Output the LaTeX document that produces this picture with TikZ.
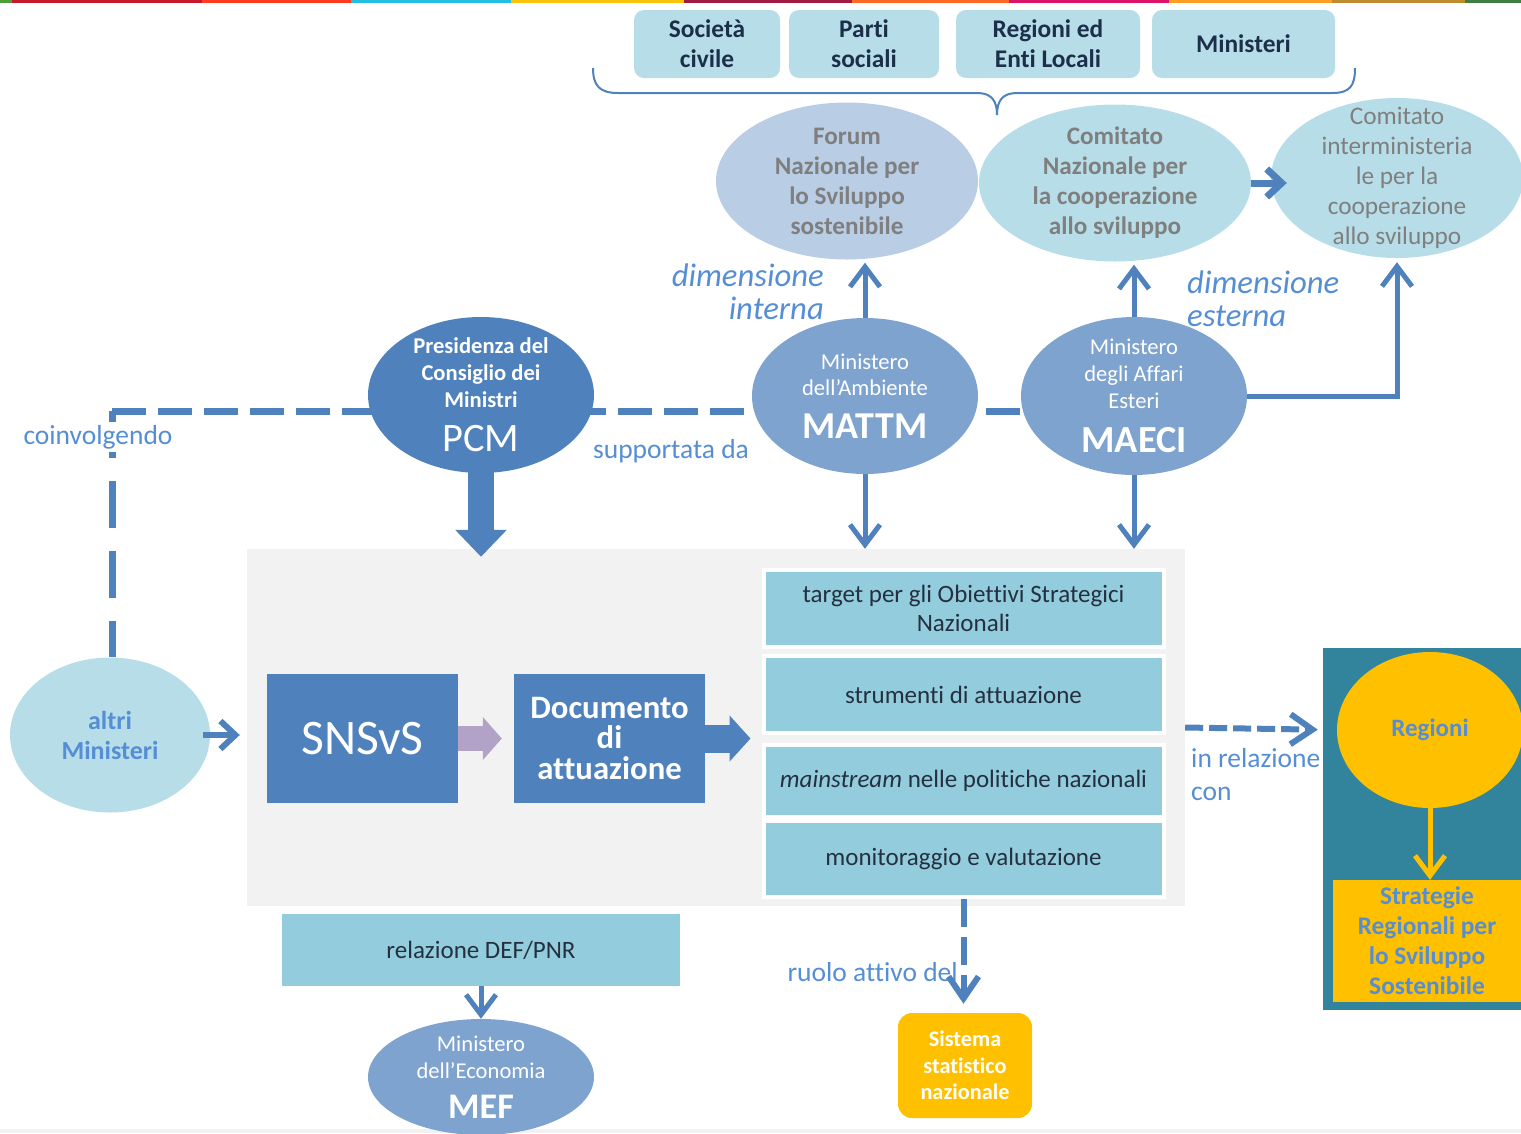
\documentclass[tikz,border=0pt]{standalone}
\usepackage{fontspec}
\setmainfont{Carlito}[Ligatures={NoCommon}]
\usetikzlibrary{arrows.meta,positioning,shapes.geometric,backgrounds}
\definecolor{sdgblue}{HTML}{4F81BD}
\definecolor{midblue}{HTML}{7EA3CE}
\definecolor{labblue}{HTML}{558ED5}
\definecolor{paleaqua}{HTML}{B7DEE8}
\definecolor{boxaqua}{HTML}{93CDDD}
\definecolor{paleblue}{HTML}{B9CDE5}
\definecolor{gold}{HTML}{FFC000}
\definecolor{petrol}{HTML}{31849B}
\definecolor{lilac}{HTML}{B3A2C7}
\definecolor{panelgray}{HTML}{F2F2F2}
\definecolor{ink}{HTML}{1C2F4A}
\definecolor{inkgray}{HTML}{243040}
\definecolor{greytext}{HTML}{7F7F7F}
\definecolor{sdgA}{HTML}{4C9F38}
\definecolor{sdgB}{HTML}{C5192D}
\definecolor{sdgC}{HTML}{FF3A21}
\definecolor{sdgD}{HTML}{26BDE2}
\definecolor{sdgE}{HTML}{FCC30B}
\definecolor{sdgF}{HTML}{A21942}
\definecolor{sdgG}{HTML}{FD6925}
\definecolor{sdgH}{HTML}{DD1367}
\definecolor{sdgI}{HTML}{FD9D24}
\definecolor{sdgJ}{HTML}{BF8B2E}
\definecolor{sdgK}{HTML}{3F7E44}
\newcommand{\fsz}[2]{\fontsize{#1}{#2}\selectfont}
\tikzset{
  topbox/.style={rounded corners=10pt,fill=paleaqua,minimum height=68pt,align=center,text=ink,font=\fsz{25.4}{30}\bfseries},
  ell/.style={ellipse,inner sep=-40pt,align=center},
  sbox/.style={fill=boxaqua,draw=white,line width=4pt,minimum width=400pt,align=center,text=inkgray,font=\fsz{25}{29}},
  bbox/.style={fill=sdgblue,text=white,minimum width=191pt,minimum height=129pt,align=center,inner sep=0pt},
  lab/.style={text=labblue,font=\fsz{27.5}{33},inner sep=0pt},
  dimlab/.style={text=labblue,font=\fsz{32.7}{33}\itshape,inner sep=0pt},
  arr/.style={-{Straight Barb[length=20pt,width=30pt]},line width=5pt,draw=sdgblue},
  smallarr/.style={-{Straight Barb[length=15pt,width=28pt]},line width=7pt,draw=sdgblue},
  darr/.style={-{Straight Barb[length=22pt,width=30pt]},line width=6pt,draw=sdgblue,dash pattern=on 18pt off 6pt},
  dline/.style={line width=7pt,draw=sdgblue,dash pattern=on 34pt off 12pt},
  brace/.style={line width=2pt,draw=sdgblue}
}
\begin{document}
\begin{tikzpicture}[x=1pt,y=-1pt]
  \useasboundingbox (0,0) rectangle (1521,1133);
  \foreach \xa/\xb/\c in {0/12/sdgA,12/202/sdgB,202/351/sdgC,351/511/sdgD,511/684/sdgE,684/852/sdgF,852/1009/sdgG,1009/1169/sdgH,1169/1332/sdgI,1332/1465/sdgJ,1465/1521/sdgK}
    \fill[\c] (\xa,0) rectangle (\xb,3);
  \fill[panelgray] (0,1129) rectangle (1521,1133);

  \node[topbox,minimum width=146pt] (civ) at (707,44) {Società\\civile};
  \node[topbox,minimum width=150pt] (parti) at (864,44) {Parti\\sociali};
  \node[topbox,minimum width=184pt] (enti) at (1048,44) {Regioni ed\\Enti Locali};
  \node[topbox,minimum width=183pt] (mintop) at (1243.5,44) {Ministeri};
  \draw[brace] (593,68) .. controls (593,86) and (600,93) .. (618,93) -- (977,93)
    .. controls (991,93) and (997,100) .. (997,115) .. controls (997,100) and (1003,93) .. (1017,93)
    -- (1332,93) .. controls (1350,93) and (1355,86) .. (1355,68);

  \node[ell,fill=paleblue,minimum width=262pt,minimum height=157pt,text=greytext,font=\fsz{25.2}{30}\bfseries] (forum) at (847,181) {Forum\\Nazionale per\\lo Sviluppo\\sostenibile};
  \node[ell,fill=paleaqua,minimum width=272pt,minimum height=157pt,text=greytext,font=\fsz{25.2}{30}\bfseries] (cnc) at (1115,183) {Comitato\\Nazionale per\\la cooperazione\\allo sviluppo};
  \node[ell,fill=paleaqua,minimum width=252pt,minimum height=160pt,text=greytext,font=\fsz{25.3}{30}] (cics) at (1397,178) {Comitato\\interministeria\\le per la\\cooperazione\\allo sviluppo};

  \node[ell,fill=sdgblue,minimum width=226pt,minimum height=156pt,text=white,font=\fsz{22.6}{27}\bfseries] (pcm) at (481,395) {Presidenza del\\Consiglio dei\\Ministri\\[17pt]{\fsz{40.4}{44}\mdseries PCM}};
  \node[ell,fill=midblue,minimum width=226pt,minimum height=156pt,text=white,font=\fsz{22.6}{26}] (mattm) at (865,396) {Ministero\\dell’Ambiente\\[17pt]{\fsz{38}{42}\bfseries MATTM}};
  \node[ell,fill=midblue,minimum width=226pt,minimum height=158pt,text=white,font=\fsz{22.6}{27}] (maeci) at (1134,396) {Ministero\\degli Affari\\Esteri\\[17pt]{\fsz{38.3}{42}\bfseries MAECI}};

  \coordinate (turn) at (112,411);
  \node[ell,fill=paleaqua,minimum width=200pt,minimum height=155pt,text=labblue,font=\fsz{26}{30}\bfseries] (altri) at (110,735) {altri\\Ministeri};
  \begin{scope}[on background layer]
    \draw[dline] (turn) -- (turn -| maeci);
    \draw[dline,dash pattern=on 47pt off 23pt] (turn) -- (turn |- altri.north);
  \end{scope}
  \node[lab,fill=white,inner sep=3pt] (coinv) at (98,437) {coinvolgendo};
  \node[lab] (supp) at (671,451) {supportata da};
  \node[dimlab,anchor=east,align=right] (dimint) at (824,292) {dimensione\\interna};
  \node[dimlab,anchor=west,align=left] (dimest) at (1187,299) {dimensione\\esterna};

  \node[fill=panelgray,minimum width=938pt,minimum height=357pt,inner sep=0pt] (panel) at (716,727.5) {};
  \node[bbox,font=\fsz{49.7}{55}] (snsvs) at (362.5,738.5) {SNSvS};
  \node[bbox,font=\fsz{32.7}{30.5}\bfseries] (doc) at (609.5,738.5) {Documento\\di\\attuazione};
  \node[sbox,minimum height=77pt] (target) at (963.5,608.5) {target per gli Obiettivi Strategici\\Nazionali};
  \node[sbox,minimum height=77pt] (strum) at (963.5,694.5) {strumenti di attuazione};
  \node[sbox,minimum height=72pt] (mainstr) at (963.5,781) {\textit{mainstream} nelle politiche nazionali};
  \node[sbox,minimum height=76pt] (monit) at (963.5,859) {monitoraggio e valutazione};

  \node[fill=petrol,minimum width=200pt,minimum height=362pt,inner sep=0pt] (regbox) at (1423,829) {};
  \node[ell,fill=gold,minimum width=186pt,minimum height=156pt,text=labblue,font=\fsz{25}{30}\bfseries] (regioni) at (1430,730) {Regioni};
  \node[fill=gold,minimum width=188pt,minimum height=122pt,align=center,text=labblue,font=\fsz{25.4}{30}\bfseries] (strat) at (1427,941) {Strategie\\Regionali per\\lo Sviluppo\\Sostenibile};
  \node[lab,anchor=west,align=left] (inrel) at (1191,775) {in relazione\\con};

  \node[fill=boxaqua,minimum width=398pt,minimum height=72pt,text=inkgray,font=\fsz{25}{29}] (defpnr) at (481,950) {relazione DEF/PNR};
  \node[ell,fill=midblue,minimum width=226pt,minimum height=116pt,text=white,font=\fsz{22.6}{27}] (mef) at (481,1077) {Ministero\\dell’Economia\\[13pt]{\fsz{36}{40}\bfseries MEF}};
  \node[fill=gold,rounded corners=14pt,minimum width=134pt,minimum height=105pt,align=center,text=white,font=\fsz{22.3}{26.5}\bfseries] (sistan) at (965,1065.5) {Sistema\\statistico\\nazionale};
  \node[lab,anchor=east] (ruolo) at (958,972) {ruolo attivo del};

  \draw[arr,shorten >=3pt] (mattm.north) -- (mattm.north |- forum.south);
  \draw[arr,shorten >=3pt] (maeci.north) -- (maeci.north |- cnc.south);
  \draw[arr,shorten >=4pt] (maeci.east) -| (cics.south);
  \draw[smallarr,shorten >=-16pt] (cnc.east) -- (cnc.east -| cics.west);
  \draw[arr] (mattm.south) -- (mattm.south |- panel.north);
  \draw[arr] (maeci.south) -- (maeci.south |- panel.north);
  \draw[line width=26pt,draw=sdgblue,-{Triangle[length=27pt,width=50pt]},shorten <=-5pt,shorten >=-8pt] (pcm.south) -- (pcm.south |- panel.north);
  \draw[smallarr,line width=6pt,shorten <=-7pt,shorten >=7pt] (altri.east) -- (altri.east -| panel.west);
  \draw[line width=25pt,draw=lilac,-{Triangle[length=19pt,width=42pt]},shorten >=12pt] (snsvs) -- (doc);
  \draw[line width=28pt,draw=sdgblue,-{Triangle[length=21pt,width=45pt]},shorten >=11pt] (doc.east) -- (doc.east -| target.west);
  \draw[darr,shorten >=19pt] (panel.east) -- (regioni.west);
  \draw[arr,draw=gold] (regioni.south) -- (regioni.south |- strat.north);
  \draw[arr] (defpnr) -- (mef);
  \draw[darr,dash pattern=on 28pt off 10pt,shorten >=9pt] (monit.south) -- (monit.south |- sistan.north);
\end{tikzpicture}
\end{document}
